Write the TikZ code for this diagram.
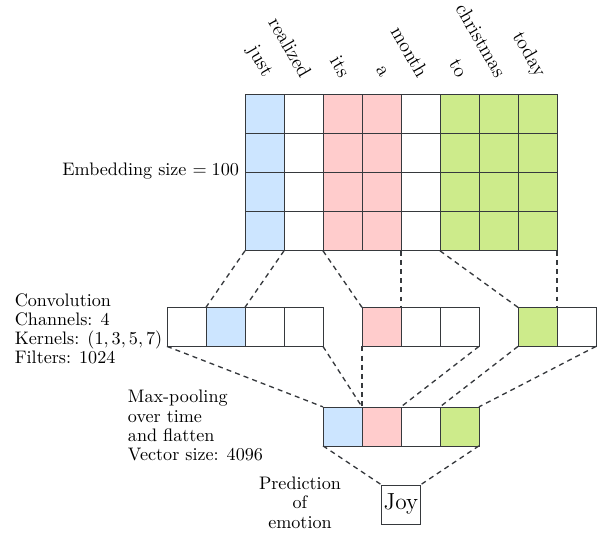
\documentclass[tikz,border=0pt]{standalone}
\definecolor{cellblue}{HTML}{CCE5FF}
\definecolor{cellpink}{HTML}{FFCCCC}
\definecolor{cellgreen}{HTML}{CDEB8B}
\definecolor{linegray}{HTML}{36393D}
\begin{document}
\begin{tikzpicture}[
  x=0.825cm, y=0.825cm,
  every node/.style={font=\fontsize{10.9}{11.6}\selectfont},
  cell/.style={draw=linegray, fill=#1, minimum width=0.825cm, minimum height=0.825cm, inner sep=0pt, outer sep=0pt},
  word/.style={rotate=-60, anchor=east, inner sep=1pt, font=\fontsize{12}{14}\selectfont},
  label/.style={align=left, inner sep=1pt},
  link/.style={draw=linegray, thick, dash pattern=on 3pt off 2.5pt}
]
  \useasboundingbox (-6.28,-7.21) rectangle (9.23,6.43);
  % embedding matrix
  \foreach \c/\col in {1/cellblue,2/white,3/cellpink,4/cellpink,5/white,6/cellgreen,7/cellgreen,8/cellgreen}
    \foreach \r in {1,...,4}
      \node[cell=\col] (emb-\c-\r) at (\c-0.5,4.5-\r) {};
  \foreach \w [count=\c] in {just,realized,its,a,month,to,christmas,today}
    \node[word] (w-\c) at (\c-0.4,4.45) {\w};
  \node[label, anchor=east] (embsize) at (-0.1,2.05) {Embedding size $=100$};
  % convolution
  \foreach \col [count=\i] in {white,cellblue,white,white}
    \node[cell=\col] (c1-\i) at (-2.5+\i,-1.95) {};
  \foreach \col [count=\i] in {cellpink,white,white}
    \node[cell=\col] (c2-\i) at (2.5+\i,-1.95) {};
  \foreach \col [count=\i] in {cellgreen,white}
    \node[cell=\col] (c3-\i) at (6.5+\i,-1.95) {};
  \node[label, anchor=west] (convtxt) at (-5.95,-2.0) {Convolution\\Channels: 4\\Kernels: $(1,3,5,7)$\\Filters: 1024};
  % max-pooling
  \foreach \col [count=\i] in {cellblue,cellpink,white,cellgreen}
    \node[cell=\col] (p-\i) at (1.5+\i,-4.5) {};
  \node[label, anchor=west] (pooltxt) at (-3.05,-4.48) {Max-pooling\\over time\\and flatten\\Vector size: 4096};
  % prediction
  \node[cell=white, font=\fontsize{14}{16}\selectfont] (joy) at (4,-6.5) {Joy};
  \node[label, align=center] (predtxt) at (1.41,-6.46) {Prediction\\of\\emotion};
  % connectors
  \draw[link] (emb-1-4.south west) -- (c1-2.north west);
  \draw[link] (emb-1-4.south east) -- (c1-2.north east);
  \draw[link] (emb-3-4.south west) -- (c2-1.north west);
  \draw[link] (emb-4-4.south east) -- (c2-1.north east);
  \draw[link] (emb-6-4.south west) -- (c3-1.north west);
  \draw[link] (emb-8-4.south east) -- (c3-1.north east);
  \draw[link] (c1-1.south west) -- (p-1.north west);
  \draw[link] (c1-4.south east) -- (p-1.north east);
  \draw[link] (c2-1.south west) -- (p-2.north west);
  \draw[link] (c2-3.south east) -- (p-2.north east);
  \draw[link] (c3-1.south west) -- (p-3.north east);
  \draw[link] (c3-2.south east) -- (p-4.north east);
  \draw[link] (p-1.south west) -- (joy.north west);
  \draw[link] (p-4.south east) -- (joy.north east);
\end{tikzpicture}
\end{document}
